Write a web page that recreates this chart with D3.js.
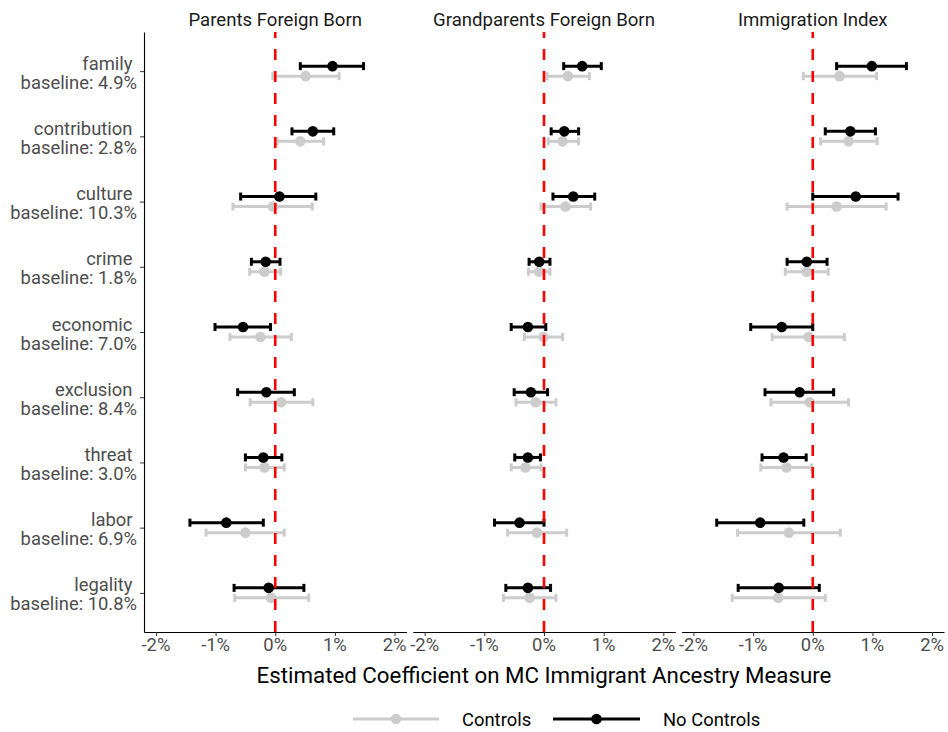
<!DOCTYPE html>
<html>
<head>
<meta charset="utf-8">
<script src="https://cdn.jsdelivr.net/npm/d3@7"></script>
<style>
  html, body { margin: 0; padding: 0; background: #fff; }
  svg text { font-family: Roboto, "Noto Sans", sans-serif; white-space: pre; }
</style>
</head>
<body>
<svg id="chart" width="948" height="732"></svg>
<script>
// ---------------- data ----------------
const categories = ["family","contribution","culture","crime","economic","exclusion","threat","labor","legality"];
const baselines = ["4.9%","2.8%","10.3%","1.8%","7.0%","8.4%","3.0%","6.9%","10.8%"];
const panels = ["Parents Foreign Born","Grandparents Foreign Born","Immigration Index"];
const xTicks = [-2, -1, 0, 1, 2];
const xTickLabels = ["-2%","-1%","0%","1%","2%"];
const seriesNames = ["Controls","No Controls"];

// [estimate, lower, upper] in percentage points, per category
const parentsNoControls = [[0.96,0.42,1.48],[0.63,0.28,0.98],[0.07,-0.58,0.68],[-0.16,-0.40,0.08],[-0.54,-1.01,-0.08],[-0.15,-0.63,0.32],[-0.20,-0.50,0.11],[-0.82,-1.43,-0.20],[-0.11,-0.69,0.48]];
const parentsControls   = [[0.51,-0.04,1.07],[0.42,0.03,0.81],[-0.04,-0.71,0.62],[-0.18,-0.43,0.09],[-0.25,-0.76,0.27],[0.10,-0.42,0.63],[-0.18,-0.50,0.15],[-0.50,-1.16,0.15],[-0.07,-0.68,0.56]];
const grandNoControls   = [[0.64,0.33,0.96],[0.34,0.12,0.58],[0.49,0.15,0.85],[-0.08,-0.25,0.10],[-0.27,-0.55,0.03],[-0.22,-0.50,0.06],[-0.27,-0.49,-0.06],[-0.41,-0.83,0.00],[-0.27,-0.64,0.11]];
const grandControls     = [[0.40,0.05,0.76],[0.31,0.07,0.58],[0.36,-0.05,0.78],[-0.08,-0.26,0.10],[-0.01,-0.33,0.31],[-0.14,-0.47,0.20],[-0.31,-0.55,-0.05],[-0.12,-0.61,0.38],[-0.24,-0.68,0.20]];
const indexNoControls   = [[0.99,0.40,1.57],[0.63,0.21,1.05],[0.72,0.00,1.43],[-0.10,-0.43,0.24],[-0.52,-1.04,0.00],[-0.22,-0.80,0.35],[-0.49,-0.85,-0.11],[-0.88,-1.61,-0.15],[-0.57,-1.25,0.11]];
const indexControls     = [[0.45,-0.16,1.07],[0.60,0.13,1.08],[0.40,-0.43,1.23],[-0.10,-0.46,0.26],[-0.07,-0.68,0.53],[-0.05,-0.70,0.60],[-0.44,-0.87,-0.02],[-0.40,-1.26,0.46],[-0.58,-1.35,0.21]];

const panelData = [
  { controls: parentsControls, noControls: parentsNoControls },
  { controls: grandControls,   noControls: grandNoControls },
  { controls: indexControls,   noControls: indexNoControls }
];

// ---------------- layout ----------------
const svg = d3.select("#chart");
const greyCol = "#cccccc";
const plotTop = 32, plotBottom = 632;
const panelLeft0 = 144, panelW = 262.5, panelGap = 6.25;
const labelSize = 18.4;

function addText(g, x, yy, str, opt = {}) {
  return g.append("text")
    .attr("x", x).attr("y", yy)
    .attr("text-anchor", opt.anchor || "start")
    .attr("font-size", opt.size || labelSize)
    .attr("fill", opt.fill || "#1a1a1a")
    .text(str);
}

const y = d3.scalePoint().domain(categories).range([plotTop, plotBottom]).padding(0.6);
const dodge = 5;

panels.forEach((name, pi) => {
  const left = panelLeft0 + pi * (panelW + panelGap);
  const x = d3.scaleLinear().domain([-2.2, 2.2]).range([left, left + panelW]);
  const g = svg.append("g");

  // strip title
  addText(g, left + panelW / 2, 26, name, { anchor: "middle", size: 18.6, fill: "#1a1a1a" });

  // bottom axis
  const xAxis = d3.axisBottom(x).tickValues(xTicks).tickFormat((d, i) => xTickLabels[i]).tickSizeInner(4).tickSizeOuter(0).tickPadding(4);
  const ax = g.append("g").attr("transform", `translate(0,${plotBottom})`).call(xAxis);
  ax.select(".domain").attr("stroke", "#000").attr("stroke-width", 1.1);
  ax.selectAll(".tick line").attr("stroke", "#333").attr("stroke-width", 1);
  ax.selectAll(".tick text").remove();
  xTicks.forEach((t, i) => addText(g, x(t), 651, xTickLabels[i], { anchor: "middle", fill: "#4d4d4d" }));

  if (pi === 0) {
    const yAxis = d3.axisLeft(y).tickSizeInner(4).tickSizeOuter(0).tickFormat("");
    const ay = g.append("g").attr("transform", `translate(${left},0)`).call(yAxis);
    ay.select(".domain").attr("stroke", "#000").attr("stroke-width", 1.1);
    ay.selectAll(".tick line").attr("stroke", "#333");
    categories.forEach((c, i) => {
      addText(g, left - 7, y(c) - 1.5, c + " ", { anchor: "end", fill: "#4d4d4d" });
      addText(g, left - 7, y(c) + 17.5, "baseline: " + baselines[i], { anchor: "end", fill: "#4d4d4d" });
    });
  }

  const series = [
    { vals: panelData[pi].controls, col: greyCol, off: dodge },
    { vals: panelData[pi].noControls, col: "#000", off: -dodge }
  ];
  series.forEach(s => {
    const sg = g.append("g");
    s.vals.forEach((v, i) => {
      const cy = y(categories[i]) + s.off;
      sg.append("line").attr("x1", x(v[1])).attr("x2", x(v[2])).attr("y1", cy).attr("y2", cy)
        .attr("stroke", s.col).attr("stroke-width", 3);
      [v[1], v[2]].forEach(e => {
        sg.append("line").attr("x1", x(e)).attr("x2", x(e)).attr("y1", cy - 4).attr("y2", cy + 4)
          .attr("stroke", s.col).attr("stroke-width", 3);
      });
      sg.append("circle").attr("cx", x(v[0])).attr("cy", cy).attr("r", 5.3).attr("fill", s.col);
    });
  });

  // zero reference line
  g.append("line").attr("x1", x(0)).attr("x2", x(0)).attr("y1", plotBottom).attr("y2", plotTop)
    .attr("stroke", "#ff0000").attr("stroke-width", 2.6).attr("stroke-dasharray", "11,11");
});

// axis title
addText(svg, 544, 683, "Estimated Coefficient on MC Immigrant Ancestry Measure", { anchor: "middle", size: 22.3, fill: "#000" });

// legend
const legend = [
  { name: seriesNames[0], col: greyCol, x0: 353, x1: 439, tx: 462 },
  { name: seriesNames[1], col: "#000", x0: 553, x1: 640, tx: 663 }
];
legend.forEach(l => {
  svg.append("line").attr("x1", l.x0).attr("x2", l.x1).attr("y1", 719).attr("y2", 719)
    .attr("stroke", l.col).attr("stroke-width", 3);
  svg.append("circle").attr("cx", (l.x0 + l.x1) / 2).attr("cy", 719).attr("r", 5.3).attr("fill", l.col);
  addText(svg, l.tx, 726, l.name, { anchor: "start", fill: "#000" });
});
</script>
</body>
</html>
